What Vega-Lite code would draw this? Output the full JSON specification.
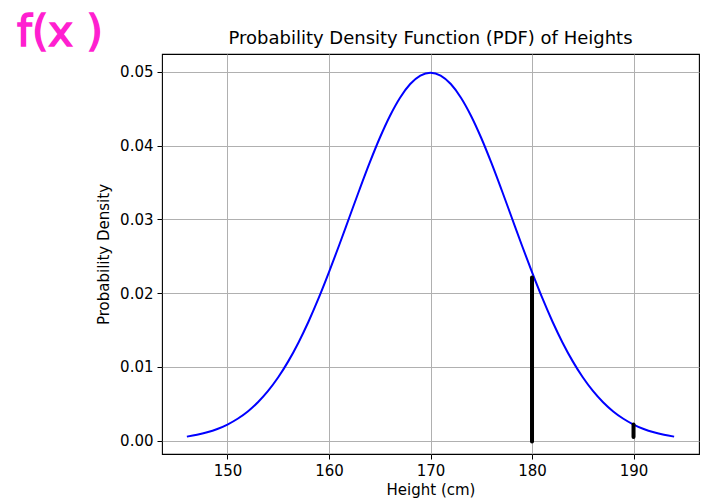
{
  "$schema": "https://vega.github.io/schema/vega-lite/v6.json",
  "width": 537,
  "height": 400,
  "autosize": "none",
  "padding": {"left": 162, "top": 54, "right": 11, "bottom": 50},
  "background": "white",
  "title": {"text": "Probability Density Function (PDF) of Heights", "fontSize": 18, "font": "DejaVu Sans", "fontWeight": "normal", "color": "#000000", "offset": 7, "anchor": "middle", "frame": "group", "dy": 43},
  "config": {
    "view": {"stroke": "#000000", "strokeWidth": 1.1},
    "axis": {
      "labelFont": "DejaVu Sans", "titleFont": "DejaVu Sans", "labelFontSize": 15, "titleFontSize": 15,
      "titleFontWeight": "normal", "labelColor": "#000000", "titleColor": "#000000",
      "tickColor": "#000000", "tickSize": 5, "domain": false,
      "grid": true, "gridColor": "#b0b0b0", "gridWidth": 1, "labelPadding": 4
    }
  },
  "datasets": {
    "curve": [
      {"h": 146, "d": 0.000554}, {"h": 147, "d": 0.000800}, {"h": 148, "d": 0.001137}, {"h": 149, "d": 0.001591},
      {"h": 150, "d": 0.002191}, {"h": 151, "d": 0.002972}, {"h": 152, "d": 0.003967}, {"h": 153, "d": 0.005217},
      {"h": 154, "d": 0.006749}, {"h": 155, "d": 0.008598}, {"h": 156, "d": 0.010785}, {"h": 157, "d": 0.013317},
      {"h": 158, "d": 0.016190}, {"h": 159, "d": 0.019376}, {"h": 160, "d": 0.022831}, {"h": 161, "d": 0.026484},
      {"h": 162, "d": 0.030246}, {"h": 163, "d": 0.034007}, {"h": 164, "d": 0.037642}, {"h": 165, "d": 0.041020},
      {"h": 166, "d": 0.044008}, {"h": 167, "d": 0.046482}, {"h": 168, "d": 0.048334}, {"h": 169, "d": 0.049480},
      {"h": 170, "d": 0.049868},
      {"h": 171, "d": 0.049480}, {"h": 172, "d": 0.048334}, {"h": 173, "d": 0.046482}, {"h": 174, "d": 0.044008},
      {"h": 175, "d": 0.041020}, {"h": 176, "d": 0.037642}, {"h": 177, "d": 0.034007}, {"h": 178, "d": 0.030246},
      {"h": 179, "d": 0.026484}, {"h": 180, "d": 0.022831}, {"h": 181, "d": 0.019376}, {"h": 182, "d": 0.016190},
      {"h": 183, "d": 0.013317}, {"h": 184, "d": 0.010785}, {"h": 185, "d": 0.008598}, {"h": 186, "d": 0.006749},
      {"h": 187, "d": 0.005217}, {"h": 188, "d": 0.003967}, {"h": 189, "d": 0.002972}, {"h": 190, "d": 0.002191},
      {"h": 191, "d": 0.001591}, {"h": 192, "d": 0.001137}, {"h": 193, "d": 0.000800}, {"h": 194, "d": 0.000554}
    ],
    "marks": [
      {"h": 180, "y0": -0.0001, "y1": 0.0221},
      {"h": 190, "y0": 0.0005, "y1": 0.0022}
    ],
    "note": [
      {"h": 133.5, "d": 0.0552, "label": "f(x )"}
    ]
  },
  "layer": [
    {
      "data": {"name": "curve"},
      "mark": {"type": "line", "color": "#0000ff", "strokeWidth": 2, "interpolate": "monotone"},
      "encoding": {
        "x": {"field": "h", "type": "quantitative", "scale": {"domain": [143.55, 196.45], "nice": false, "zero": false},
              "axis": {"values": [150, 160, 170, 180, 190], "title": "Height (cm)", "titlePadding": 4}},
        "y": {"field": "d", "type": "quantitative", "scale": {"domain": [-0.0018, 0.0524], "nice": false, "zero": false},
              "axis": {"values": [0, 0.01, 0.02, 0.03, 0.04, 0.05], "format": ".2f", "title": "Probability Density", "titlePadding": 8}}
      }
    },
    {
      "data": {"name": "marks"},
      "mark": {"type": "rule", "color": "#000000", "strokeWidth": 4, "strokeCap": "round"},
      "encoding": {
        "x": {"field": "h", "type": "quantitative"},
        "y": {"field": "y0", "type": "quantitative"},
        "y2": {"field": "y1"}
      }
    },
    {
      "data": {"name": "note"},
      "mark": {"type": "text", "color": "#ff1fd0", "stroke": "#ff1fd0", "strokeWidth": 1.5, "fontSize": 42, "font": "DejaVu Sans", "fontWeight": "normal", "clip": false},
      "encoding": {
        "x": {"field": "h", "type": "quantitative"},
        "y": {"field": "d", "type": "quantitative"},
        "text": {"field": "label"}
      }
    }
  ]
}
